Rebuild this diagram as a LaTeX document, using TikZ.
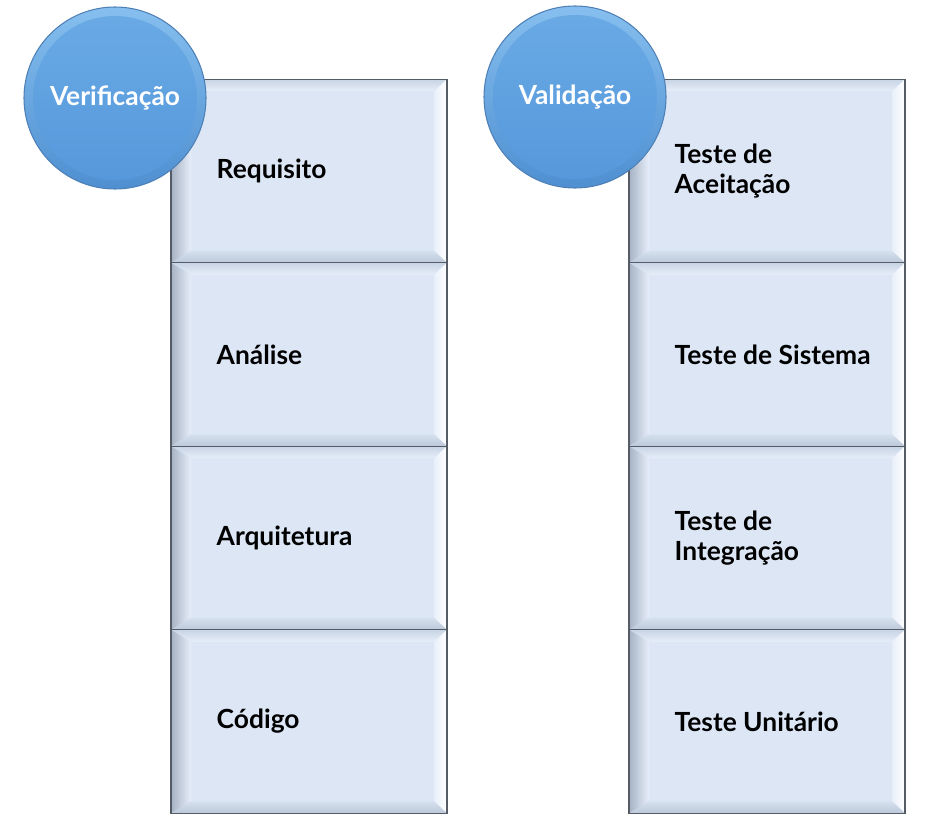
\documentclass[tikz,border=0pt]{standalone}
\usepackage{fontspec}
\setmainfont{Lato}
\usepackage{tikz}
\definecolor{facefill}{HTML}{DCE6F5}
\definecolor{boxline}{HTML}{555C66}
\definecolor{ringtop}{HTML}{86BFEF}
\definecolor{ringbot}{HTML}{4F8FD1}
\definecolor{ringline}{HTML}{4F80B5}
\definecolor{disctop}{HTML}{6AABE6}
\definecolor{discbot}{HTML}{5597DA}
\tikzset{every node/.append style={font=\fontsize{15pt}{16.8pt}\selectfont\bfseries}}
\tikzset{
  stagebox/.style={draw=boxline, line width=0.7pt, fill=facefill, inner sep=0pt,
    minimum width=55.2mm, minimum height=36.7mm,
    path picture={
      \coordinate (bNW) at (path picture bounding box.north west);
      \coordinate (bNE) at (path picture bounding box.north east);
      \coordinate (bSW) at (path picture bounding box.south west);
      \coordinate (bSE) at (path picture bounding box.south east);
      % bevel: top, left, right, bottom
      \shade[top color=HTMLtop, bottom color=HTMLtopin] (bNW) -- (bNE) -- ([xshift=-2.6mm,yshift=-2.4mm]bNE) -- ([xshift=4mm,yshift=-2.4mm]bNW) -- cycle;
      \shade[left color=HTMLleft, right color=HTMLleftin] (bNW) -- ([xshift=4mm,yshift=-2.4mm]bNW) -- ([xshift=4mm,yshift=2.4mm]bSW) -- (bSW) -- cycle;
      \shade[left color=HTMLrightin, right color=white] (bNE) -- (bSE) -- ([xshift=-2.6mm,yshift=2.4mm]bSE) -- ([xshift=-2.6mm,yshift=-2.4mm]bNE) -- cycle;
      \shade[top color=HTMLbotin, bottom color=HTMLbot] (bSW) -- ([xshift=4mm,yshift=2.4mm]bSW) -- ([xshift=-2.6mm,yshift=2.4mm]bSE) -- (bSE) -- cycle;
    }},
  steptext/.style={anchor=west, align=left, inner sep=0pt},
  phase/.style={circle, minimum size=36.4mm, inner sep=0pt, text=white,
    draw=ringline, line width=0.6pt, top color=ringtop, bottom color=ringbot,
    path picture={\shade[top color=disctop, bottom color=discbot]
      (path picture bounding box.center) circle (16.4mm);}},
}
\definecolor{HTMLtop}{HTML}{C8D4E5}
\definecolor{HTMLtopin}{HTML}{E6EEF9}
\definecolor{HTMLleft}{HTML}{A6B2C3}
\definecolor{HTMLleftin}{HTML}{E6EEF9}
\definecolor{HTMLrightin}{HTML}{E8EFF9}
\definecolor{HTMLbotin}{HTML}{D6E0EE}
\definecolor{HTMLbot}{HTML}{BCC8D8}

\begin{document}
\begin{tikzpicture}[x=0.2mm, y=-0.2mm]
    \useasboundingbox (0,0) rectangle (931,821);
    % verification column
    \foreach \i/\txt in {1/Requisito, 2/Análise, 3/Arquitetura, 4/Código} {
        \node[stagebox] (ver\i) at (309,{171+183.5*(\i-1)}) {};
        \node[steptext] (vertxt\i) at ([xshift=9.2mm]ver\i.west) {\txt};
    }
    % validation column
    \foreach \i/\txt in {1/{Teste de\\Aceitação}, 2/{Teste de Sistema}, 3/{Teste de\\Integração}, 4/{Teste Unitário}} {
        \node[stagebox] (val\i) at (767,{171+183.5*(\i-1)}) {};
        \node[steptext] (valtxt\i) at ([xshift=9.2mm]val\i.west) {\txt};
    }
    \node[phase] (verif) at (115,98) {Verificação};
    \node[phase] (valid) at (575,97) {Validação};
\end{tikzpicture}
\end{document}
